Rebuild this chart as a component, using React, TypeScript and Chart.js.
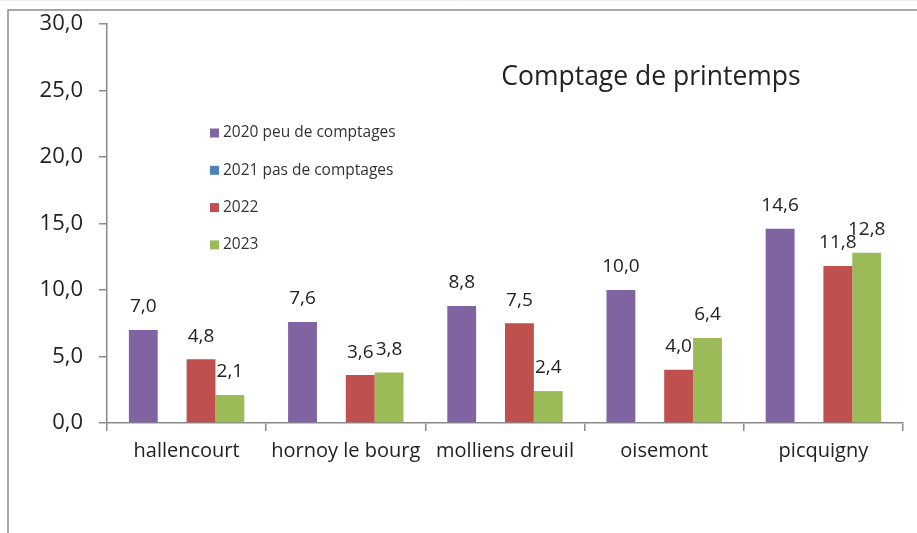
import React, { useEffect, useRef } from "react";
import { Chart, registerables } from "chart.js";

Chart.register(...registerables);

const categories = ["hallencourt", "hornoy le bourg", "molliens dreuil", "oisemont", "picquigny"];
const seriesLabels = ["2020 peu de comptages", "2021 pas de comptages", "2022", "2023"];
const values2020 = [7.0, 7.6, 8.8, 10.0, 14.6];
const values2021: (number | null)[] = [null, null, null, null, null];
const values2022 = [4.8, 3.6, 7.5, 4.0, 11.8];
const values2023 = [2.1, 3.8, 2.4, 6.4, 12.8];
const seriesColors = ["#8064A2", "#4F81BD", "#C0504D", "#9BBB59"];
const yTicks = [0, 5, 10, 15, 20, 25, 30];
const titleText = "Comptage de printemps";

const FONT = "'Open Sans', Lato, sans-serif";
const fmt = (v: number) => v.toFixed(1).replace(".", ",");

const framePlugin = {
  id: "frame",
  beforeDraw(chart: any) {
    const ctx = chart.ctx;
    ctx.save();
    ctx.fillStyle = "#ffffff";
    ctx.fillRect(0, 0, chart.width, chart.height);
    ctx.strokeStyle = "#eeeeee";
    ctx.lineWidth = 1;
    ctx.beginPath();
    ctx.moveTo(0, 0.5);
    ctx.lineTo(chart.width, 0.5);
    ctx.stroke();
    ctx.strokeStyle = "#8a8a8a";
    ctx.lineWidth = 1.5;
    ctx.beginPath();
    ctx.moveTo(8, chart.height);
    ctx.lineTo(8, 10);
    ctx.lineTo(chart.width, 10);
    ctx.stroke();
    ctx.restore();
  },
};

const overlayPlugin = {
  id: "overlay",
  afterDraw(chart: any) {
    const ctx = chart.ctx;
    const area = chart.chartArea;
    ctx.save();
    // data labels
    ctx.fillStyle = "#222222";
    ctx.font = `19px ${FONT}`;
    ctx.textAlign = "center";
    ctx.textBaseline = "middle";
    chart.data.datasets.forEach((ds: any, i: number) => {
      const meta = chart.getDatasetMeta(i);
      meta.data.forEach((bar: any, j: number) => {
        const v = ds.data[j];
        if (v === null || v === undefined) return;
        ctx.fillText(fmt(v), bar.x, bar.y - 23);
      });
    });
    // title
    ctx.font = `26.5px ${FONT}`;
    ctx.fillStyle = "#222222";
    ctx.fillText(titleText, area.left + 544, area.top + 53);
    // legend
    ctx.font = `15.5px ${FONT}`;
    ctx.textAlign = "left";
    chart.data.datasets.forEach((ds: any, i: number) => {
      const y = area.top + 109 + i * 37.3;
      const x = area.left + 103;
      ctx.fillStyle = ds.backgroundColor;
      ctx.fillRect(x, y - 4.5, 9, 9);
      ctx.fillStyle = "#333333";
      ctx.fillText(ds.label, x + 13, y);
    });
    ctx.restore();
  },
};

export default function App() {
  const canvasRef = useRef<HTMLCanvasElement | null>(null);

  useEffect(() => {
    if (!canvasRef.current) return;
    const allValues = [values2020, values2021, values2022, values2023];
    const chart = new Chart(canvasRef.current, {
      type: "bar",
      data: {
        labels: categories,
        datasets: allValues.map((vals, i) => ({
          label: seriesLabels[i],
          data: vals,
          backgroundColor: seriesColors[i],
          borderWidth: 0,
          categoryPercentage: 0.725,
          barPercentage: 1.0,
        })),
      },
      options: {
        animation: false,
        responsive: false,
        devicePixelRatio: 1,
        layout: { padding: { top: 24, right: 14, left: 0, bottom: 0 } },
        plugins: {
          legend: { display: false },
          title: { display: false },
          tooltip: { enabled: false },
        },
        scales: {
          x: {
            grid: {
              offset: true,
              drawOnChartArea: false,
              drawTicks: true,
              tickLength: 8,
              color: "#8a8a8a",
              lineWidth: 1.5,
            },
            border: { display: true, color: "#8a8a8a", width: 1.5 },
            ticks: {
              color: "#222222",
              font: { family: FONT, size: 20 },
              padding: 8,
              maxRotation: 0,
              autoSkip: false,
            },
            afterFit: (scale: any) => {
              scale.height = 110;
              scale.paddingLeft = 0;
              scale.paddingRight = 0;
            },
          },
          y: {
            min: 0,
            max: 30,
            afterBuildTicks: (scale: any) => {
              scale.ticks = yTicks.map((v) => ({ value: v }));
            },
            grid: {
              drawOnChartArea: false,
              drawTicks: true,
              tickLength: 8,
              color: "#8a8a8a",
              lineWidth: 1.5,
            },
            border: { display: true, color: "#8a8a8a", width: 1.5 },
            ticks: {
              color: "#222222",
              font: { family: FONT, size: 22 },
              padding: 16,
              callback: (v: any) => fmt(Number(v)),
            },
            afterFit: (scale: any) => {
              scale.width = 107;
              scale.paddingTop = 0;
              scale.paddingBottom = 0;
            },
          },
        },
      },
      plugins: [framePlugin, overlayPlugin],
    });
    return () => chart.destroy();
  }, []);

  return (
    <div style={{ position: "fixed", left: 0, top: 0, width: 917, height: 533 }}>
      <canvas ref={canvasRef} width={917} height={533} style={{ display: "block" }} />
    </div>
  );
}
